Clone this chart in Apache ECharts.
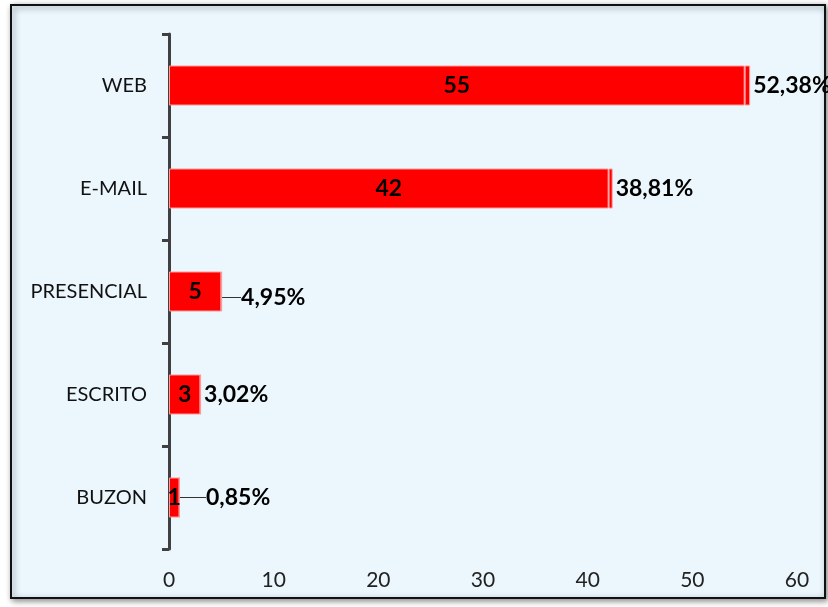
<!DOCTYPE html>
<html><head><meta charset="utf-8">
<script src="https://cdn.jsdelivr.net/npm/echarts@6/dist/echarts.min.js"></script>
<style>html,body{margin:0;padding:0;background:#fff}#c{width:828px;height:607px}</style>
</head><body><div id="c"></div>
<script>
const categories = ['WEB','E-MAIL','PRESENCIAL','ESCRITO','BUZON'];
const counts = [55, 42, 5, 3, 1];
const percents = [52.38, 38.81, 4.95, 3.02, 0.85];
const xTicks = [0, 10, 20, 30, 40, 50, 60];
const leaderLines = [false, false, true, false, true];

const font = 'Lato, "Open Sans", sans-serif';
const chart = echarts.init(document.getElementById('c'));
chart.setOption({
  animation: false,
  backgroundColor: '#ffffff',
  graphic: [{
    type: 'rect', z: -10, silent: true,
    shape: {x: 11, y: 5, width: 814, height: 593},
    style: {fill: '#EBF7FD', stroke: '#111', lineWidth: 2,
      shadowBlur: 6, shadowColor: 'rgba(0,0,0,0.45)', shadowOffsetX: 2, shadowOffsetY: 2}
  }],
  grid: {left: 169, right: 31, top: 34, bottom: 58, containLabel: false},
  xAxis: {
    type: 'value', min: xTicks[0], max: xTicks[xTicks.length-1], interval: 10,
    axisLine: {show: false}, axisTick: {show: false}, splitLine: {show: false},
    axisLabel: {fontFamily: font, fontSize: 21, color: '#222', margin: 21}
  },
  yAxis: {
    type: 'category', data: categories, inverse: true,
    axisLine: {show: true, lineStyle: {color: '#404040', width: 3}},
    axisTick: {show: true, length: 7, lineStyle: {color: '#404040', width: 3}},
    axisLabel: {fontFamily: font, fontSize: 20, color: '#111', margin: 22}
  },
  series: [{
    type: 'bar', stack: 's', data: counts, barWidth: 40,
    itemStyle: {color: '#FF0000', borderColor: '#FF9A9A', borderWidth: 1},
    label: {show: true, position: 'inside', fontFamily: font, fontWeight: 'bold', fontSize: 23, color: '#000'}
  }, {
    type: 'bar', stack: 's', barWidth: 40,
    data: percents.map((p, i) => ({value: p / 100, labelLine: {show: leaderLines[i]}})),
    itemStyle: {color: '#FF0000', borderColor: '#FF9A9A', borderWidth: 1},
    label: {show: true, position: 'right', distance: 3, fontFamily: font, fontWeight: 'bold', fontSize: 23, color: '#000',
      formatter: p => percents[p.dataIndex].toFixed(2).replace('.', ',') + '%'},
    labelLine: {show: false, lineStyle: {color: '#333', width: 1}},
    labelLayout: p => (p.dataIndex === 2 ? {dx: 16, dy: 6} : p.dataIndex === 4 ? {dx: 23} : {})
  }]
});
</script></body></html>
